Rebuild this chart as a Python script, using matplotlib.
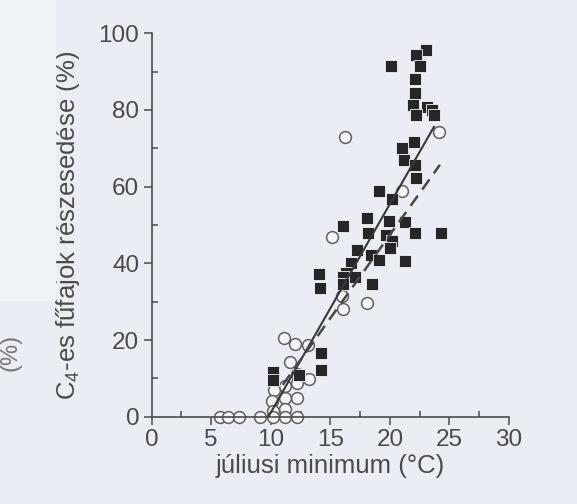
import matplotlib
matplotlib.use("Agg")
import matplotlib.pyplot as plt
from matplotlib.patches import Rectangle
from matplotlib.ticker import MultipleLocator

# filled squares
sq_x = [23.05, 22.2, 20.1, 22.5, 22.1, 22.1, 21.95, 23.1, 23.5, 23.7, 22.2,
        22.0, 21.05, 21.15, 22.1, 22.2, 19.05, 20.2, 16.1, 18.1, 19.95, 21.25,
        22.1, 24.3, 18.2, 19.7, 20.2, 17.2, 18.4, 19.1, 20.0, 21.25, 16.7,
        16.35, 14.05, 14.15, 16.05, 17.1, 18.5, 16.05, 14.2, 14.2, 10.2, 10.2,
        12.35]
sq_y = [95.6, 94.3, 91.5, 91.5, 88.0, 84.5, 81.3, 80.7, 80.0, 78.7, 78.7,
        71.7, 70.0, 66.9, 65.6, 62.3, 59.0, 56.9, 49.8, 51.7, 51.0, 50.8,
        47.8, 48.0, 47.8, 47.5, 45.8, 43.6, 42.1, 40.9, 44.0, 40.5, 40.1,
        37.5, 37.3, 33.6, 36.4, 36.4, 34.7, 34.5, 16.6, 12.1, 11.6, 9.5,
        10.8]

# open circles
ci_x = [16.2, 24.1, 21.0, 15.1, 16.1, 18.1, 16.0, 11.1, 12.05, 13.15, 11.65,
        13.2, 12.2, 10.3, 11.2, 12.2, 10.1, 11.2, 12.2, 11.2, 10.2,
        5.7, 6.4, 7.3, 9.1, 10.2, 11.2, 12.2]
ci_y = [73.0, 74.3, 59.0, 46.8, 28.0, 29.6, 31.5, 20.6, 18.9, 18.7, 14.3,
        9.8, 11.1, 7.0, 8.0, 8.9, 4.0, 4.8, 4.8, 2.0, 1.5,
        0, 0, 0, 0, 0, 0, 0]

# regression lines
solid_x = [9.8, 23.7]
solid_y = [0, 75.6]
dash_x = [11.0, 24.2]
dash_y = [8.3, 65.7]

bg = "#eaeef4"
ink = "#4a4a4a"

plt.rcParams["font.family"] = ["Liberation Sans", "DejaVu Sans"]
plt.rcParams["mathtext.fontset"] = "custom"
plt.rcParams["mathtext.rm"] = "Liberation Sans"
plt.rcParams["mathtext.it"] = "Liberation Sans"

fig = plt.figure(figsize=(5.77, 5.04), dpi=100, facecolor=bg)
# lighter strip of the scanned page at top left
fig.patches.append(Rectangle((0, 1 - 300 / 504), 55 / 577, 300 / 504,
                             transform=fig.transFigure, color="#f0f3f7",
                             zorder=0))
ax = fig.add_axes([0.2629, 0.1732, 0.6192, 0.7607])
ax.set_facecolor("none")

ax.plot(ci_x, ci_y, "o", ms=8.5, mfc="#f2f4f7", mec="#606060", mew=1.1,
        ls="none", clip_on=False, zorder=2)
ax.plot(sq_x, sq_y, "s", ms=8, mfc="#262626", mec="#f2f4f7", mew=0.6,
        ls="none", clip_on=False, zorder=3)
ax.plot(solid_x, solid_y, color="#383838", lw=1.5, zorder=4)
ax.plot(dash_x, dash_y, color="#484848", lw=1.8, dashes=(5, 3), zorder=4)

ax.set_xlim(0, 30)
ax.set_ylim(0, 100)
for s in ["top", "right"]:
    ax.spines[s].set_visible(False)
for s in ["left", "bottom"]:
    ax.spines[s].set_color(ink)
    ax.spines[s].set_linewidth(1.2)

ax.xaxis.set_major_locator(MultipleLocator(5))
ax.xaxis.set_minor_locator(MultipleLocator(2.5))
ax.yaxis.set_major_locator(MultipleLocator(20))
ax.yaxis.set_minor_locator(MultipleLocator(10))
ax.tick_params(which="major", direction="out", length=6, width=1.1,
               color=ink, labelcolor=ink, labelsize=17.5, pad=3)
ax.tick_params(which="minor", direction="in", length=4, width=1.1, color=ink)

ax.set_xlabel("júliusi minimum (°C)", fontsize=18.5, color=ink, labelpad=2)
ax.set_ylabel("C$_4$-es fűfajok részesedése (%)", fontsize=18.5, color=ink,
              labelpad=12)

# fragment of a neighbouring figure label at the left edge
fig.text(0.018, 0.30, "(%)", rotation=90, fontsize=17, color="#777777",
         ha="center", va="center")

fig.savefig("out.png", dpi=100, facecolor=bg)
